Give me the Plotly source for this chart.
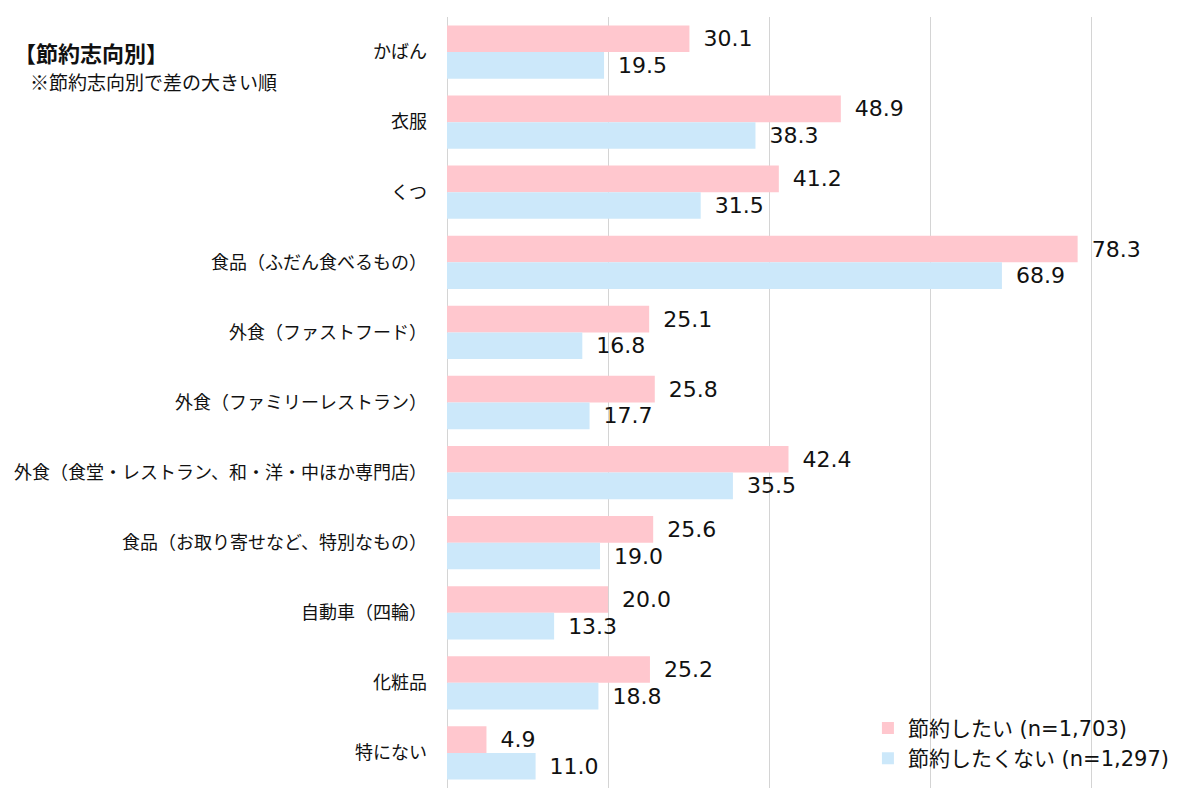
import plotly.graph_objects as go

categories = [
    "かばん",
    "衣服",
    "くつ",
    "食品（ふだん食べるもの）",
    "外食（ファストフード）",
    "外食（ファミリーレストラン）",
    "外食（食堂・レストラン、和・洋・中ほか専門店）",
    "食品（お取り寄せなど、特別なもの）",
    "自動車（四輪）",
    "化粧品",
    "特にない",
]
want_save = [30.1, 48.9, 41.2, 78.3, 25.1, 25.8, 42.4, 25.6, 20.0, 25.2, 4.9]
no_save = [19.5, 38.3, 31.5, 68.9, 16.8, 17.7, 35.5, 19.0, 13.3, 18.8, 11.0]
series_names = ["節約したい (n=1,703)", "節約したくない (n=1,297)"]

PINK = "#FFC7CE"
BLUE = "#CCE8FA"
LATIN = "DejaVu Sans, Noto Sans CJK JP, sans-serif"
CJK = "Noto Sans CJK JP, sans-serif"

fig = go.Figure()
for name, vals, col in [(series_names[0], want_save, PINK), (series_names[1], no_save, BLUE)]:
    fig.add_trace(go.Bar(
        y=categories, x=vals, name=name, orientation="h",
        marker=dict(color=col, line=dict(width=0)),
        text=vals, texttemplate="\u2002%{x:.1f}", textposition="outside",
        textfont=dict(family=LATIN, size=22, color="#111111"),
        cliponaxis=False,
    ))

fig.update_layout(
    width=1184, height=784,
    margin=dict(l=439, r=0, t=9, b=4),
    paper_bgcolor="white", plot_bgcolor="white",
    barmode="group", bargap=0.24, bargroupgap=0,
    showlegend=True,
    legend=dict(
        x=0.565, xanchor="left", y=0.012, yanchor="bottom",
        bgcolor="rgba(0,0,0,0)", traceorder="normal",
        font=dict(family=LATIN, size=21, color="#111111"),
        itemclick=False, tracegroupgap=0,
    ),
    xaxis=dict(
        range=[0, 92.5], dtick=20, showticklabels=False,
        showgrid=True, gridcolor="#D4D4D4", gridwidth=1,
        zeroline=True, zerolinecolor="#D4D4D4", zerolinewidth=1,
        fixedrange=True,
    ),
    yaxis=dict(
        autorange="reversed", showgrid=False,
        tickfont=dict(family=CJK, size=18, color="#111111"),
        ticklabelstandoff=19,
        fixedrange=True,
    ),
    annotations=[
        dict(text="<b>【節約志向別】</b>", xref="paper", yref="paper",
             x=-0.584, y=0.955, xanchor="left", yanchor="middle", showarrow=False,
             font=dict(family=CJK, size=22, color="#111111")),
        dict(text="※節約志向別で差の大きい順", xref="paper", yref="paper",
             x=-0.5624, y=0.916, xanchor="left", yanchor="middle", showarrow=False,
             font=dict(family=CJK, size=19, color="#111111")),
    ],
)

fig.write_html("out.html")
